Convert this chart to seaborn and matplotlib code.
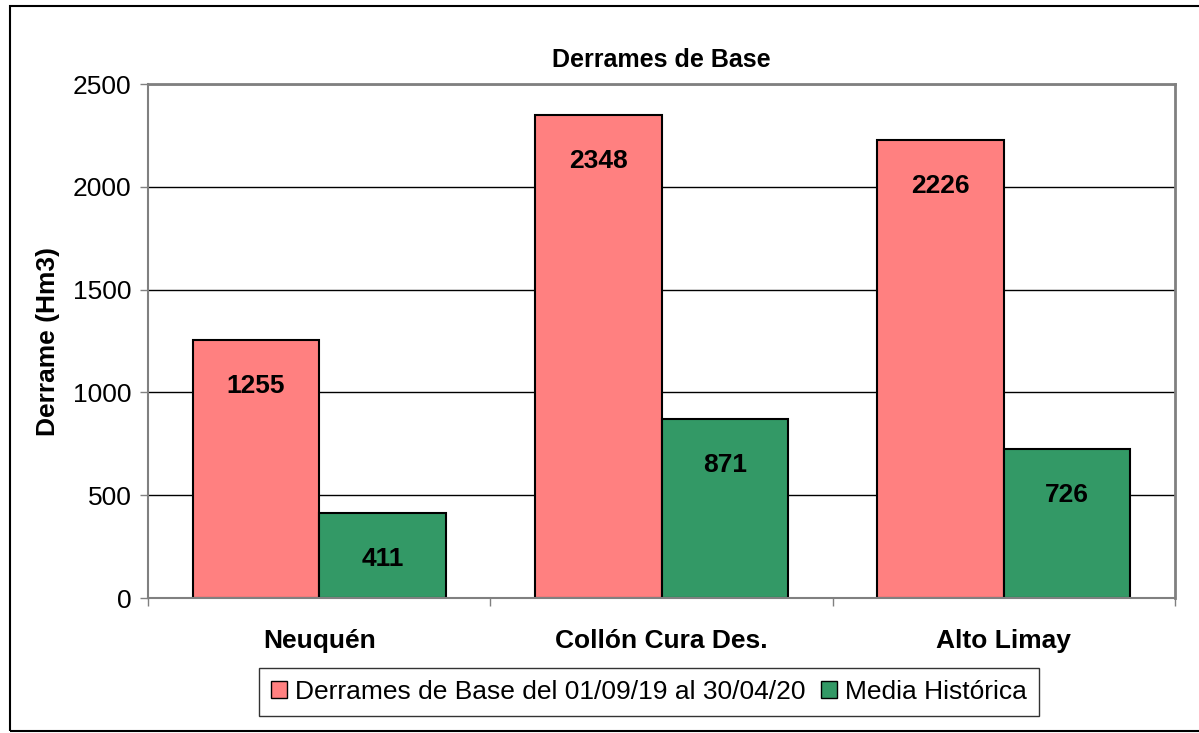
import pandas as pd
import seaborn as sns
import matplotlib.pyplot as plt
from matplotlib.patches import Rectangle

# Data
categories = ['Neuquén', 'Collón Cura Des.', 'Alto Limay']
derrames = [1255, 2348, 2226]
media = [411, 871, 726]
series_names = ['Derrames de Base del 01/09/19 al 30/04/20', 'Media Histórica']

df = pd.DataFrame({
    'Cuenca': categories * 2,
    'Derrame': derrames + media,
    'Serie': [series_names[0]] * 3 + [series_names[1]] * 3,
})

sns.set_style('white')
plt.rcParams['font.family'] = ['Liberation Sans', 'DejaVu Sans']
plt.rcParams['text.color'] = 'black'
plt.rcParams['axes.labelcolor'] = 'black'
plt.rcParams['xtick.color'] = 'black'
plt.rcParams['ytick.color'] = 'black'

fig = plt.figure(figsize=(11.99, 7.33), dpi=100)
ax = fig.add_axes([148 / 1199, 1 - 598 / 733, (1175 - 148) / 1199, (598 - 84) / 733])

sns.barplot(data=df, x='Cuenca', y='Derrame', hue='Serie',
            palette=['#FF8080', '#339966'], width=0.74, gap=0,
            edgecolor='black', linewidth=1.5, saturation=1, ax=ax)

ax.set_ylim(0, 2500)
ax.set_xlim(-0.5, 2.5)
ax.set_yticks(range(0, 2501, 500))
ax.yaxis.grid(True, color='black', linewidth=1)
ax.set_axisbelow(True)

# x ticks sit between categories
ax.set_xticks([-0.5, 0.5, 1.5, 2.5], minor=False)
ax.set_xticklabels([])
ax.set_xticks([0, 1, 2], minor=True)
ax.set_xticklabels(categories, minor=True, fontsize=19, fontweight='bold')
ax.tick_params(axis='x', which='minor', length=0, pad=22)
ax.tick_params(axis='x', which='major', length=6, width=1, color='#808080', direction='out', bottom=True)
ax.tick_params(axis='y', length=6, width=1, color='#808080', labelcolor='black',
               direction='out', left=True, labelsize=19, pad=6)

for side in ['top', 'right']:
    ax.spines[side].set_color('#808080')
    ax.spines[side].set_linewidth(2)
for side in ['left', 'bottom']:
    ax.spines[side].set_color('#808080')
    ax.spines[side].set_linewidth(1.5)

ax.set_xlabel('')
ax.set_ylabel('Derrame (Hm3)', fontsize=19, fontweight='bold', labelpad=9)
ax.set_title('Derrames de Base', fontsize=18, fontweight='bold', pad=12)

# value labels inside the top of each bar
for cont in ax.containers:
    for bar in cont:
        h = bar.get_height()
        ax.annotate(f'{h:.0f}', xy=(bar.get_x() + bar.get_width() / 2, h),
                    xytext=(0, -33), textcoords='offset points',
                    ha='center', va='center', fontsize=19, fontweight='bold')

leg = ax.legend(loc='center', bbox_to_anchor=((649 - 148) / 1027, (598 - 692) / 514),
                ncol=2, frameon=True, fontsize=19, handlelength=0.6, handleheight=0.6,
                handletextpad=0.3, columnspacing=0.6, borderpad=0.45, fancybox=False)
leg.get_frame().set_edgecolor('black')
leg.get_frame().set_linewidth(1)
for h in leg.legend_handles:
    h.set_edgecolor('black')
    h.set_linewidth(1)

# outer chart border
fig.patches.append(Rectangle((10 / 1199, 2 / 733), 1.2, 1 - 8 / 733, transform=fig.transFigure,
                             fill=False, edgecolor='black', linewidth=1.5))

fig.savefig('out.png', dpi=100)
